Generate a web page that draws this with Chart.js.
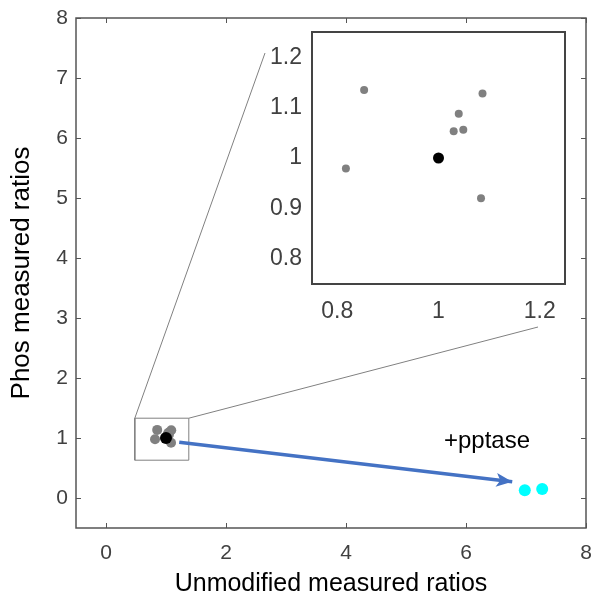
<!DOCTYPE html>
<html><head><meta charset="utf-8">
<script src="https://cdn.jsdelivr.net/npm/chart.js@4.4.0/dist/chart.umd.min.js"></script>
<style>
html,body{margin:0;padding:0;background:#fff;}
#wrap{position:relative;width:596px;height:603px;overflow:hidden;}
#main{position:absolute;left:0;top:0;}
#inset{position:absolute;left:240px;top:20px;}
</style></head><body>
<div id="wrap">
<canvas id="main" width="596" height="603"></canvas>
<canvas id="inset" width="340" height="320"></canvas>
</div>
<script>
// ---- data ----
const grayX = [0.853, 1.087, 1.040, 1.030, 1.049, 0.817, 1.084];
const grayY = [1.135, 1.128, 1.088, 1.053, 1.056, 0.979, 0.920];
const blackX = [1.0];
const blackY = [1.0];
const cyanX = [6.98, 7.27];
const cyanY = [0.13, 0.15];
const arrowX = [1.22, 6.77];
const arrowY = [0.93, 0.27];
const zoomBoxX = [0.48, 1.38];
const zoomBoxY = [0.63, 1.33];
const mainXTicks = [0, 2, 4, 6, 8];
const mainYTicks = [0, 1, 2, 3, 4, 5, 6, 7, 8];
const insetXTicks = [0.8, 1, 1.2];
const insetYTicks = [0.8, 0.9, 1, 1.1, 1.2];
const insetXLabels = ['0.8', '1', '1.2'];
const insetYLabels = ['0.8', '0.9', '1', '1.1', '1.2'];
const xTitle = 'Unmodified measured ratios';
const yTitle = 'Phos measured ratios';
const noteText = '+pptase';
const noteX = [6.35];
const noteY = [0.95];

const pts = (xs, ys) => xs.map((x, i) => ({x: x, y: ys[i]}));
const FONT = "'Liberation Sans', Arial, sans-serif";
Chart.defaults.font.family = FONT;
const noPad = s => { s.paddingLeft = 0; s.paddingRight = 0; s.paddingTop = 0; s.paddingBottom = 0; };

// ---- plugins ----
const framePlugin = (lw, color, tickLen, xt, yt) => ({
  id: 'frame',
  afterDraw(chart) {
    const {ctx, chartArea: a, scales: {x, y}} = chart;
    ctx.save();
    ctx.strokeStyle = color;
    ctx.lineWidth = lw;
    ctx.strokeRect(a.left, a.top, a.right - a.left, a.bottom - a.top);
    if (tickLen > 0) {
      ctx.lineWidth = 1;
      ctx.beginPath();
      xt.forEach(v => {
        const px = Math.round(x.getPixelForValue(v)) + 0.5;
        ctx.moveTo(px, a.bottom); ctx.lineTo(px, a.bottom - tickLen);
        ctx.moveTo(px, a.top); ctx.lineTo(px, a.top + tickLen);
      });
      yt.forEach(v => {
        const py = Math.round(y.getPixelForValue(v)) + 0.5;
        ctx.moveTo(a.left, py); ctx.lineTo(a.left + tickLen, py);
        ctx.moveTo(a.right, py); ctx.lineTo(a.right - tickLen, py);
      });
      ctx.stroke();
    }
    ctx.restore();
  }
});

const extrasPlugin = {
  id: 'extras',
  beforeDatasetsDraw(chart) {
    const {ctx, scales: {x, y}} = chart;
    // connector lines from zoom box corners to inset
    ctx.save();
    ctx.strokeStyle = '#808080';
    ctx.lineWidth = 1;
    ctx.beginPath();
    ctx.moveTo(x.getPixelForValue(zoomBoxX[0]), y.getPixelForValue(zoomBoxY[1]));
    ctx.lineTo(265, 53);
    ctx.moveTo(x.getPixelForValue(zoomBoxX[1]), y.getPixelForValue(zoomBoxY[1]));
    ctx.lineTo(538, 327);
    ctx.stroke();
    ctx.restore();
  },
  afterDatasetsDraw(chart) {
    const {ctx, scales: {x, y}} = chart;
    // arrowhead
    const x0 = x.getPixelForValue(arrowX[0]), y0 = y.getPixelForValue(arrowY[0]);
    const x1 = x.getPixelForValue(arrowX[1]), y1 = y.getPixelForValue(arrowY[1]);
    const ang = Math.atan2(y1 - y0, x1 - x0);
    const L = 16, W = 7;
    ctx.save();
    ctx.fillStyle = '#4472C4';
    ctx.beginPath();
    ctx.moveTo(x1, y1);
    ctx.lineTo(x1 - L * Math.cos(ang) + W * Math.sin(ang), y1 - L * Math.sin(ang) - W * Math.cos(ang));
    ctx.lineTo(x1 - L * 0.75 * Math.cos(ang), y1 - L * 0.75 * Math.sin(ang));
    ctx.lineTo(x1 - L * Math.cos(ang) - W * Math.sin(ang), y1 - L * Math.sin(ang) + W * Math.cos(ang));
    ctx.closePath();
    ctx.fill();
    // annotation text
    ctx.fillStyle = '#000';
    ctx.font = "24px " + FONT;
    ctx.textAlign = 'center';
    ctx.textBaseline = 'middle';
    ctx.fillText(noteText, x.getPixelForValue(noteX[0]), y.getPixelForValue(noteY[0]));
    ctx.restore();
  }
};

const boxPts = [
  {x: zoomBoxX[0], y: zoomBoxY[0]}, {x: zoomBoxX[1], y: zoomBoxY[0]},
  {x: zoomBoxX[1], y: zoomBoxY[1]}, {x: zoomBoxX[0], y: zoomBoxY[1]},
  {x: zoomBoxX[0], y: zoomBoxY[0]}
];

// ---- main chart ----
new Chart(document.getElementById('main'), {
  type: 'scatter',
  data: {
    datasets: [
      {type: 'line', data: pts(arrowX, arrowY), borderColor: '#4472C4', borderWidth: 3.5,
       pointRadius: 0, fill: false, tension: 0, order: 0},
      {data: pts(blackX, blackY), backgroundColor: '#000', borderWidth: 0, pointRadius: 6, order: 1},
      {data: pts(grayX, grayY), backgroundColor: '#808080', borderWidth: 0, pointRadius: 5, order: 2},
      {data: pts(cyanX, cyanY), backgroundColor: '#00FFFF', borderWidth: 0, pointRadius: 6, order: 3},
      {type: 'line', data: boxPts, borderColor: '#808080', borderWidth: 1,
       pointRadius: 0, fill: false, tension: 0, order: 4}
    ]
  },
  options: {
    responsive: false, animation: false,
    layout: {padding: {top: 18, right: 10, left: 0, bottom: 0}},
    plugins: {legend: {display: false}, tooltip: {enabled: false}},
    scales: {
      x: {
        type: 'linear', min: -0.5, max: 8,
        afterBuildTicks: s => { s.ticks = mainXTicks.map(v => ({value: v})); },
        afterFit: s => { s.height = 75; noPad(s); },
        grid: {display: false, drawTicks: false}, border: {display: false},
        ticks: {color: '#404040', font: {size: 21}, padding: 13, autoSkip: false, maxRotation: 0,
                callback: v => String(v)},
        title: {display: true, text: xTitle, color: '#000', font: {size: 25}, padding: {top: 0, bottom: 4}}
      },
      y: {
        type: 'linear', min: -0.5, max: 8,
        afterBuildTicks: s => { s.ticks = mainYTicks.map(v => ({value: v})); },
        afterFit: s => { s.width = 76; noPad(s); },
        grid: {display: false, drawTicks: false}, border: {display: false},
        ticks: {color: '#404040', font: {size: 21}, padding: 8, autoSkip: false,
                callback: v => String(v)},
        title: {display: true, text: yTitle, color: '#000', font: {size: 26}, padding: {top: 6, bottom: 0}}
      }
    }
  },
  plugins: [extrasPlugin, framePlugin(1.5, '#555', 5, mainXTicks, mainYTicks)]
});

// ---- inset chart ----
new Chart(document.getElementById('inset'), {
  type: 'scatter',
  data: {
    datasets: [
      {data: pts(blackX, blackY), backgroundColor: '#000', borderWidth: 0, pointRadius: 5.5, order: 0},
      {data: pts(grayX, grayY), backgroundColor: '#808080', borderWidth: 0, pointRadius: 4, order: 1}
    ]
  },
  options: {
    responsive: false, animation: false,
    layout: {padding: {top: 12, right: 15, left: 0, bottom: 0}},
    plugins: {legend: {display: false}, tooltip: {enabled: false}},
    scales: {
      x: {
        type: 'linear', min: 0.75, max: 1.25,
        afterBuildTicks: s => { s.ticks = insetXTicks.map(v => ({value: v})); },
        afterFit: s => { s.height = 56; noPad(s); },
        grid: {display: false, drawTicks: false}, border: {display: false},
        ticks: {color: '#404040', font: {size: 23}, padding: 14, autoSkip: false, maxRotation: 0,
                callback: (v, i) => insetXLabels[insetXTicks.indexOf(v)]}
      },
      y: {
        type: 'linear', min: 0.75, max: 1.25,
        afterBuildTicks: s => { s.ticks = insetYTicks.map(v => ({value: v})); },
        afterFit: s => { s.width = 72; noPad(s); },
        grid: {display: false, drawTicks: false}, border: {display: false},
        ticks: {color: '#404040', font: {size: 23}, padding: 10, autoSkip: false,
                callback: (v, i) => insetYLabels[insetYTicks.indexOf(v)]}
      }
    }
  },
  plugins: [framePlugin(2, '#444', 0, insetXTicks, insetYTicks)]
});
</script>
</body></html>
